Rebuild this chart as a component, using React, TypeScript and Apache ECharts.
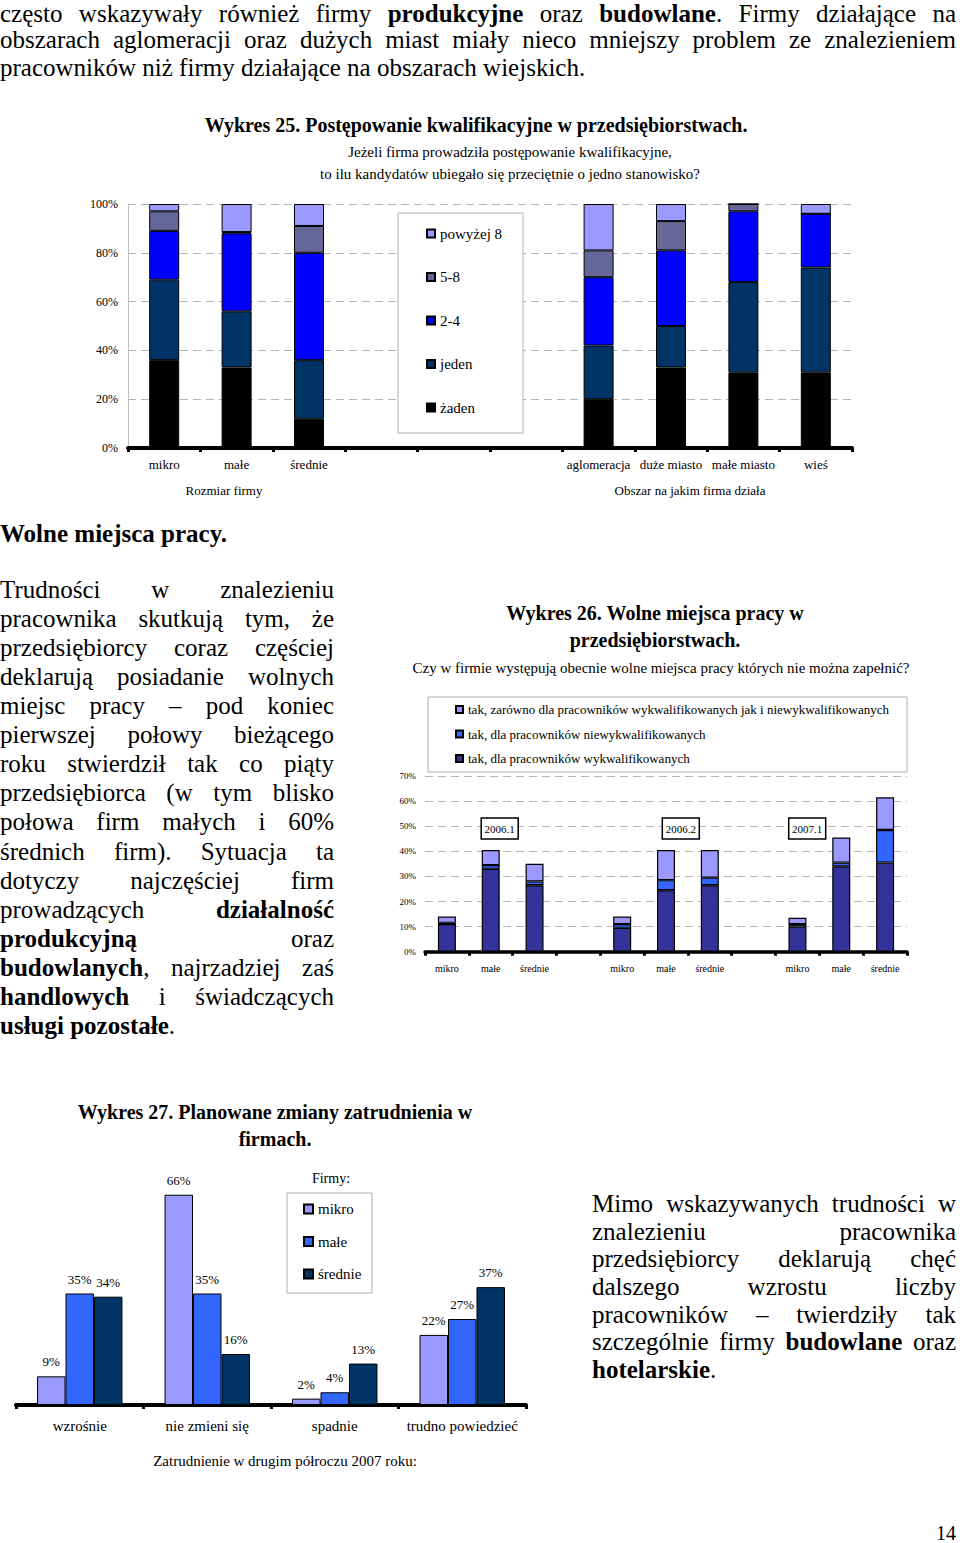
import React, { useEffect, useRef } from 'react';
import * as echarts from 'echarts';

const SERIF_CSS = '"Liberation Serif", "Times New Roman", serif';
const SERIF = 'Liberation Serif';

// ---------- Wykres 25 ----------
const w25Categories = ['mikro', 'małe', 'średnie', '', '', '', 'aglomeracja', 'duże miasto', 'małe miasto', 'wieś'];
const w25Zaden = [36, 33, 12, null, null, null, 20, 33, 31, 31];
const w25Jeden = [33, 23, 24, null, null, null, 22, 17, 37, 43];
const w25DwaCztery = [20, 32, 44, null, null, null, 28, 31, 29, 22];
const w25PiecOsiem = [8, 0.5, 11, null, null, null, 11, 12, 3, 0];
const w25Powyzej8 = [3, 11.5, 9, null, null, null, 19, 7, 0, 4];
const w25SeriesNames = ['żaden', 'jeden', '2-4', '5-8', 'powyżej 8'];
const w25Legend = ['powyżej 8', '5-8', '2-4', 'jeden', 'żaden'];

// ---------- Wykres 26 ----------
const w26Categories = ['mikro', 'małe', 'średnie', '', 'mikro', 'małe', 'średnie', '', 'mikro', 'małe', 'średnie'];
const w26Wykw = [11, 33, 26.5, null, 9.5, 24.5, 26.5, null, 10, 34, 35.5];
const w26Niewykw = [0.5, 1.5, 1.5, null, 1.5, 4, 3, null, 1, 1.5, 13];
const w26Oba = [2.5, 6, 7, null, 3, 12, 11, null, 2.5, 10, 13];
const w26SeriesNames = [
  'tak, dla pracowników wykwalifikowanych',
  'tak, dla pracowników niewykwalifikowanych',
  'tak, zarówno dla pracowników wykwalifikowanych jak i niewykwalifikowanych',
];
const w26Periods = ['2006.1', '2006.2', '2007.1'];

// ---------- Wykres 27 ----------
const w27Categories = ['wzrośnie', 'nie zmieni się', 'spadnie', 'trudno powiedzieć'];
const w27Mikro = [9, 66, 2, 22];
const w27Male = [35, 35, 4, 27];
const w27Srednie = [34, 16, 13, 37];
const w27SeriesNames = ['mikro', 'małe', 'średnie'];

// ---------- prose ----------
const topPara = [
  'często wskazywały również firmy **produkcyjne** oraz **budowlane**. Firmy działające na',
  'obszarach aglomeracji oraz dużych miast miały nieco mniejszy problem ze znalezieniem',
  'pracowników niż firmy działające na obszarach wiejskich.',
];
const topBaselines = [22.5, 48, 76];
const leftPara = [
  'Trudności w znalezieniu',
  'pracownika skutkują tym, że',
  'przedsiębiorcy coraz częściej',
  'deklarują posiadanie wolnych',
  'miejsc pracy – pod koniec',
  'pierwszej połowy bieżącego',
  'roku stwierdził tak co piąty',
  'przedsiębiorca (w tym blisko',
  'połowa firm małych i 60%',
  'średnich firm). Sytuacja ta',
  'dotyczy najczęściej firm',
  'prowadzących **działalność**',
  '**produkcyjną** oraz',
  '**budowlanych**, najrzadziej zaś',
  '**handlowych** i świadczących',
  '**usługi pozostałe**.',
];
const rightPara = [
  'Mimo wskazywanych trudności w',
  'znalezieniu pracownika',
  'przedsiębiorcy deklarują chęć',
  'dalszego wzrostu liczby',
  'pracowników – twierdziły tak',
  'szczególnie firmy **budowlane** oraz',
  '**hotelarskie**.',
];

const txt = (text: string, x: number, y: number, size: number, bold = false, align = 'center') => ({
  type: 'text',
  x,
  y,
  z: 10,
  style: {
    text,
    fontSize: size,
    fontFamily: SERIF,
    fontWeight: bold ? 'bold' : 'normal',
    fill: '#000',
    align,
    verticalAlign: 'middle',
    textAlign: align,
    textVerticalAlign: 'middle',
  },
});

const frame = (x: number, y: number, w: number, h: number) => ({
  type: 'rect',
  z: 3,
  shape: { x, y, width: w, height: h },
  style: { fill: '#fff', stroke: '#b0b0b0', lineWidth: 1 },
});

const dashed = { lineStyle: { color: '#b5b5b5', width: 1, type: [8, 5] } };

// ---------- option A ----------
const colorsA = ['#000000', '#003366', '#0000FF', '#666699', '#9999FF'];
const dataA = [w25Zaden, w25Jeden, w25DwaCztery, w25PiecOsiem, w25Powyzej8];
const optA: any = {
  animation: false,
  textStyle: { fontFamily: SERIF, color: '#000' },
  grid: { left: 128, right: 108, top: 104, bottom: 62 },
  xAxis: {
    type: 'category',
    data: w25Categories,
    axisLine: { lineStyle: { color: '#000', width: 4 } },
    axisTick: { show: true, interval: 0, length: 4, lineStyle: { color: '#000', width: 3 } },
    axisLabel: { interval: 0, margin: 10, fontSize: 13, color: '#000', fontFamily: SERIF },
  },
  yAxis: {
    type: 'value',
    min: 0,
    max: 100,
    interval: 20,
    axisLine: { show: true, lineStyle: { color: '#c0c0c0', width: 1 } },
    axisTick: { show: false },
    axisLabel: { formatter: '{value}%', fontSize: 12, margin: 10, color: '#000', fontFamily: SERIF },
    splitLine: dashed,
  },
  legend: {
    orient: 'vertical',
    left: 426,
    top: 126,
    padding: 0,
    itemGap: 28.5,
    itemWidth: 8,
    itemHeight: 8,
    icon: 'rect',
    z: 10,
    data: w25Legend,
    textStyle: { fontSize: 15, fontFamily: SERIF, color: '#000' },
  },
  series: w25SeriesNames.map((name, i) => ({
    name,
    type: 'bar',
    stack: 'a',
    data: dataA[i],
    barWidth: 30,
    itemStyle: { color: colorsA[i], borderColor: '#000', borderWidth: 1 },
  })),
  graphic: [
    frame(398, 113, 125, 220),
    txt('Wykres 25. Postępowanie kwalifikacyjne w przedsiębiorstwach.', 476, 25, 20, true),
    txt('Jeżeli firma prowadziła postępowanie kwalifikacyjne,', 510, 52, 15),
    txt('to ilu kandydatów ubiegało się przeciętnie o jedno stanowisko?', 510, 74, 15),
    txt('Rozmiar firmy', 224, 390, 13),
    txt('Obszar na jakim firma działa', 690, 390, 13),
  ],
};

// ---------- option B ----------
const OXB = 380;
const colorsB = ['#333399', '#3366FF', '#9999FF'];
const dataB = [w26Wykw, w26Niewykw, w26Oba];
const periodBoxes = [499.7, 680.8, 807.2];
const optB: any = {
  animation: false,
  textStyle: { fontFamily: SERIF, color: '#000' },
  grid: { left: 425 - OXB, right: 53, top: 186, bottom: 38.3 },
  xAxis: {
    type: 'category',
    data: w26Categories,
    axisLine: { lineStyle: { color: '#000', width: 3.5 } },
    axisTick: { show: true, interval: 0, length: 4, lineStyle: { color: '#000', width: 3 } },
    axisLabel: { interval: 0, margin: 12, fontSize: 10, color: '#000', fontFamily: SERIF },
  },
  yAxis: {
    type: 'value',
    min: 0,
    max: 70,
    interval: 10,
    axisLine: { show: false },
    axisTick: { show: false },
    axisLabel: { formatter: '{value}%', fontSize: 9, margin: 9, color: '#000', fontFamily: SERIF },
    splitLine: dashed,
  },
  legend: {
    orient: 'vertical',
    left: 455 - OXB,
    top: 113,
    padding: 0,
    itemGap: 11.5,
    itemWidth: 7,
    itemHeight: 7,
    icon: 'rect',
    z: 10,
    data: [w26SeriesNames[2], w26SeriesNames[1], w26SeriesNames[0]],
    textStyle: { fontSize: 13, fontFamily: SERIF, color: '#000' },
  },
  series: w26SeriesNames.map((name, i) => ({
    name,
    type: 'bar',
    stack: 'b',
    data: dataB[i],
    barWidth: 18,
    itemStyle: { color: colorsB[i], borderColor: '#000', borderWidth: 1.2 },
  })),
  graphic: [
    frame(428 - OXB, 107, 479, 75),
    txt('Wykres 26. Wolne miejsca pracy w', 655 - OXB, 23, 20, true),
    txt('przedsiębiorstwach.', 655 - OXB, 50, 20, true),
    txt('Czy w firmie występują obecnie wolne miejsca pracy których nie można zapełnić?', 661 - OXB, 78, 15),
    ...w26Periods.map((p, i) => ({
      type: 'group',
      z: 10,
      children: [
        {
          type: 'rect',
          z: 10,
          shape: { x: periodBoxes[i] - OXB - 18.5, y: 228, width: 37, height: 21 },
          style: { fill: '#fff', stroke: '#000', lineWidth: 1.5 },
        },
        txt(p, periodBoxes[i] - OXB, 238.5, 11),
      ],
    })),
  ],
};

// ---------- option C ----------
const colorsC = ['#9999FF', '#3366FF', '#003366'];
const dataC = [w27Mikro, w27Male, w27Srednie];
const optC: any = {
  animation: false,
  textStyle: { fontFamily: SERIF, color: '#000' },
  grid: { left: 16, right: 34, top: 92, bottom: 75 },
  xAxis: {
    type: 'category',
    data: w27Categories,
    axisLine: { lineStyle: { color: '#000', width: 4 } },
    axisTick: { show: true, interval: 0, length: 4, lineStyle: { color: '#000', width: 3 } },
    axisLabel: { interval: 0, margin: 13.5, fontSize: 15, color: '#000', fontFamily: SERIF },
  },
  yAxis: { type: 'value', min: 0, max: 70, show: false, splitLine: { show: false } },
  legend: {
    orient: 'vertical',
    left: 303,
    top: 111.5,
    padding: 0,
    itemGap: 17.5,
    itemWidth: 9,
    itemHeight: 9,
    icon: 'rect',
    z: 10,
    data: w27SeriesNames,
    textStyle: { fontSize: 15, fontFamily: SERIF, color: '#000' },
  },
  series: w27SeriesNames.map((name, i) => ({
    name,
    type: 'bar',
    data: dataC[i],
    barGap: '0%',
    barCategoryGap: '33%',
    itemStyle: { color: colorsC[i], borderColor: '#000', borderWidth: 1 },
    label: {
      show: true,
      position: 'top',
      distance: 8,
      formatter: '{c}%',
      fontSize: 13,
      fontFamily: SERIF,
      color: '#000',
    },
  })),
  graphic: [
    frame(287, 103, 85, 100),
    txt('Firmy:', 331, 88, 14),
    txt('Wykres 27. Planowane zmiany zatrudnienia w', 275, 22, 20, true),
    txt('firmach.', 275, 49, 20, true),
    txt('Zatrudnienie w drugim półroczu 2007 roku:', 285, 371, 15),
  ],
};

function Chart({ left, top, width, height, option }: any) {
  const ref = useRef<HTMLDivElement>(null);
  useEffect(() => {
    const c = echarts.init(ref.current as HTMLDivElement, null, { renderer: 'svg' });
    c.setOption(option);
    return () => c.dispose();
  }, []);
  return <div ref={ref} style={{ position: 'absolute', left, top, width, height }} />;
}

function Line({ x, w, base, fs, text, justify, bold }: any) {
  const L = Math.round(fs * 1.2);
  const top = base - ((L - 1.107 * fs) / 2 + 0.891 * fs);
  const parts = String(text).split('**');
  const style: any = {
    position: 'absolute',
    left: x,
    top,
    width: w,
    height: L,
    lineHeight: `${L}px`,
    fontSize: fs,
    fontWeight: bold ? 'bold' : 'normal',
    textAlign: justify ? 'justify' : 'left',
    textAlignLast: justify ? 'justify' : 'left',
  };
  return (
    <div style={style}>
      {parts.map((p, i) => (i % 2 ? <b key={i}>{p}</b> : <span key={i}>{p}</span>))}
    </div>
  );
}

export default function App() {
  return (
    <div
      style={{
        position: 'absolute',
        left: 0,
        top: 0,
        width: 960,
        height: 1543,
        background: '#fff',
        color: '#000',
        fontFamily: SERIF_CSS,
        overflow: 'hidden',
      }}
    >
      {topPara.map((t, i) => (
        <Line key={'t' + i} x={0} w={956} base={topBaselines[i]} fs={25} text={t} justify={i < topPara.length - 1} />
      ))}
      <Line x={0} w={400} base={542.7} fs={25} text="Wolne miejsca pracy." bold />
      {leftPara.map((t, i) => (
        <Line key={'l' + i} x={0} w={334} base={598.5 + 29.05 * i} fs={25} text={t} justify={i < leftPara.length - 1} />
      ))}
      {rightPara.map((t, i) => (
        <Line key={'r' + i} x={592} w={364} base={1212.7 + 27.6 * i} fs={25} text={t} justify={i < rightPara.length - 1} />
      ))}
      <div style={{ position: 'absolute', left: 900, top: 1541 - 20 * 0.891 - 2, width: 56, height: 24, lineHeight: '24px', fontSize: 20, textAlign: 'right' }}>14</div>
      <Chart left={0} top={100} width={960} height={410} option={optA} />
      <Chart left={OXB} top={590} width={580} height={400} option={optB} />
      <Chart left={0} top={1090} width={560} height={390} option={optC} />
    </div>
  );
}
